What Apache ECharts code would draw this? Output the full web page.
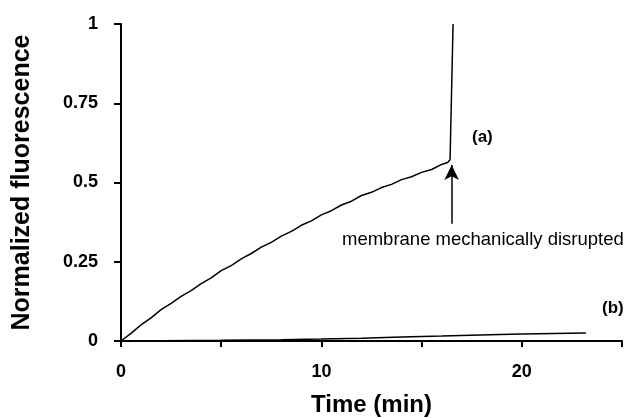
<!DOCTYPE html>
<html>
<head>
<meta charset="utf-8">
<script src="https://cdn.jsdelivr.net/npm/echarts@6/dist/echarts.min.js"></script>
<style>
html, body { margin: 0; padding: 0; background: #fff; }
#main_echarts { width: 626px; height: 418px; }
</style>
</head>
<body>
<div id="main_echarts"></div>
<script>
// curve (a): time (min), normalized fluorescence
var time_a = [0, 0.5, 1, 1.5, 2, 2.5, 3, 3.5, 4, 4.5, 5, 5.5, 6, 6.5, 7, 7.5, 8, 8.5, 9, 9.5,
    10, 10.5, 11, 11.5, 12, 12.5, 13, 13.5, 14, 14.5, 15, 15.5, 16, 16.3, 16.42, 16.5, 16.57];
var fluo_a = [0, 0.024, 0.051, 0.073, 0.099, 0.119, 0.141, 0.159, 0.181, 0.199, 0.222, 0.238, 0.259, 0.276, 0.296, 0.311,
    0.331, 0.346, 0.365, 0.379, 0.398, 0.411, 0.429, 0.441, 0.459, 0.469, 0.484, 0.494, 0.509, 0.518, 0.532, 0.541, 0.557, 0.563, 0.572, 0.8, 1];
// curve (b)
var time_b = [0, 2, 5, 8, 10, 12, 14, 16, 18.4, 20, 23.2];
var fluo_b = [0, 0.001, 0.002, 0.004, 0.006, 0.009, 0.013, 0.016, 0.02, 0.022, 0.025];
var xticks_shown = [0, 10, 20];

var font = "'Liberation Sans', Arial, sans-serif";

function pairs(xs, ys) {
    var out = [];
    for (var i = 0; i < xs.length; i++) {
        out.push([xs[i], ys[i]]);
    }
    return out;
}

var myChart = echarts.init(document.getElementById('main_echarts'));
var option = {
    animation: false,
    grid: {left: 121, right: 4, top: 24, bottom: 77, outerBoundsMode: 'none', containLabel: false},
    xAxis: {
        type: 'value',
        min: 0, max: 25, interval: 5,
        name: 'Time (min)',
        nameLocation: 'middle',
        nameGap: 52,
        nameTextStyle: {fontFamily: font, fontWeight: 'bold', fontSize: 24, color: '#000'},
        axisLine: {lineStyle: {color: '#000', width: 2}},
        axisTick: {length: 6, lineStyle: {color: '#000', width: 2}},
        axisLabel: {
            fontFamily: font, fontWeight: 'bold', fontSize: 18, color: '#000', margin: 22,
            formatter: function (v) { return xticks_shown.indexOf(v) >= 0 ? String(v) : ''; }
        },
        splitLine: {show: false}
    },
    yAxis: {
        type: 'value',
        min: 0, max: 1, interval: 0.25,
        name: 'Normalized fluorescence',
        nameLocation: 'middle',
        nameGap: 86,
        nameTextStyle: {fontFamily: font, fontWeight: 'bold', fontSize: 25, color: '#000'},
        axisLine: {show: true, lineStyle: {color: '#000', width: 2}},
        axisTick: {show: true, length: 7, lineStyle: {color: '#000', width: 2}},
        axisLabel: {fontFamily: font, fontWeight: 'bold', fontSize: 18, color: '#000', margin: 23},
        splitLine: {show: false}
    },
    series: [{
        name: 'a',
        type: 'line',
        data: pairs(time_a, fluo_a),
        showSymbol: false,
        lineStyle: {color: '#000', width: 1.5},
        markLine: {
            silent: true,
            symbol: ['none', 'arrow'],
            symbolSize: [11, 15],
            label: {show: false},
            lineStyle: {color: '#000', width: 1.5, type: 'solid'},
            data: [[{coord: [16.5, 0.37]}, {coord: [16.5, 0.555]}]]
        }
    }, {
        name: 'b',
        type: 'line',
        data: pairs(time_b, fluo_b),
        showSymbol: false,
        lineStyle: {color: '#000', width: 1.5}
    }],
    graphic: [
        {type: 'text', left: 472, top: 129, style: {text: '(a)', font: 'bold 17px ' + font, fill: '#000'}},
        {type: 'text', left: 602, top: 300, style: {text: '(b)', font: 'bold 17px ' + font, fill: '#000'}},
        {type: 'text', left: 342, top: 230, style: {text: 'membrane mechanically disrupted', font: '18.5px ' + font, fill: '#000'}}
    ]
};
myChart.setOption(option);
window.onresize = myChart.resize;
</script>
</body>
</html>
